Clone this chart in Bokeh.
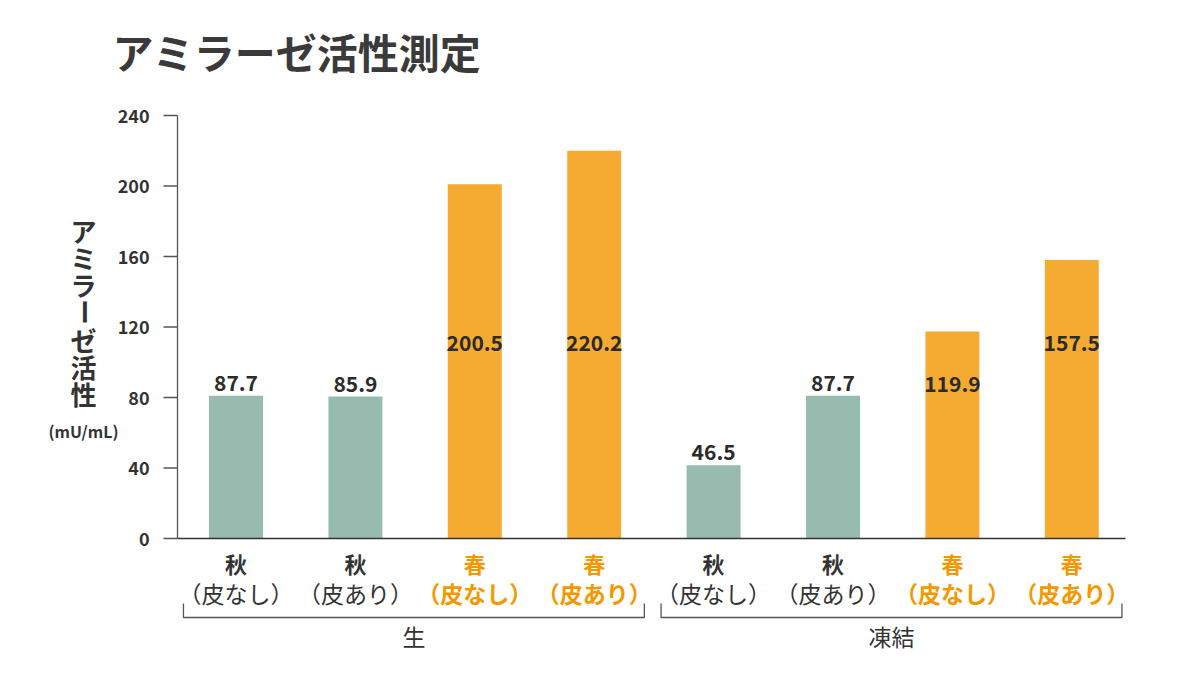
import math
from bokeh.plotting import figure
from bokeh.models import Range1d
from bokeh.core.properties import value
from bokeh.embed import file_html
from bokeh.resources import INLINE

# ---------------- data ----------------
chart_title = "アミラーゼ活性測定"
y_title_chars = list("アミラーゼ活性")
y_unit = "(mU/mL)"
groups = ["生", "凍結"]
seasons = ["秋", "秋", "春", "春", "秋", "秋", "春", "春"]
skins = ["（皮なし）", "（皮あり）", "（皮なし）", "（皮あり）",
         "（皮なし）", "（皮あり）", "（皮なし）", "（皮あり）"]
bar_heights = [81.0, 80.5, 201.0, 220.0, 41.5, 81.0, 117.5, 158.0]
value_labels = ["87.7", "85.9", "200.5", "220.2", "46.5", "87.7", "119.9", "157.5"]
y_ticks = [0, 40, 80, 120, 160, 200, 240]

# ---------------- style / layout ----------------
FONT = value("Noto Sans CJK JP")
TEAL = "#98bbb0"
ORANGE = "#f5ab32"
ORANGE_TXT = "#f39800"
DARK = "#333333"
GREY = "#555555"

W, H = 1184, 684
X0 = 175.8      # screen x of data x = 0
SLOT = 119.4    # px per category slot
Y0 = 538.0      # screen y of value 0
PXU = 423.0 / 240.0  # px per value unit
OFF = 0         # screen offset of the figure origin


def px2x(px):
    return (px - X0) / SLOT


def px2y(py):
    return (Y0 - py) / PXU


p = figure(width=W, height=H, output_backend="svg", toolbar_location=None,
           x_axis_location=None, y_axis_location=None, title=None,
           x_range=Range1d(px2x(OFF), px2x(OFF + W)),
           y_range=Range1d(px2y(OFF + H), px2y(OFF)),
           min_border=0, outline_line_color=None,
           background_fill_color="white", border_fill_color="white")
p.grid.visible = False

n = len(bar_heights)
centers = [i + 0.5 for i in range(n)]
colors = [TEAL if s == "秋" else ORANGE for s in seasons]

# bars
p.vbar(x=centers, top=bar_heights, bottom=0, width=0.452,
       fill_color=colors, line_color=None)

# value labels
out_x, out_y, out_t = [], [], []
in_x, in_y, in_t = [], [], []
for c, h, t, s in zip(centers, bar_heights, value_labels, seasons):
    if s == "秋":
        out_x.append(c); out_y.append(h); out_t.append(t)
    else:
        in_x.append(c); in_y.append(min(h - 30, 111.0)); in_t.append(t)
p.text(x=out_x, y=out_y, text=out_t, y_offset=-13, text_align="center",
       text_baseline="middle", text_font=FONT, text_font_size="21px",
       text_font_style="bold", text_color="#2b2b2b")
p.text(x=in_x, y=in_y, text=in_t, text_align="center",
       text_baseline="middle", text_font=FONT, text_font_size="21px",
       text_font_style="bold", text_color="#2b2b2b")

# y axis (line, ticks, labels)
ax_x = px2x(177)
p.segment(x0=[ax_x], y0=[0], x1=[ax_x], y1=[max(y_ticks)], line_color=GREY, line_width=1.3)
p.segment(x0=[px2x(163)] * len(y_ticks), y0=y_ticks, x1=[ax_x] * len(y_ticks), y1=y_ticks,
          line_color=GREY, line_width=1.3)
p.text(x=[px2x(149)] * len(y_ticks), y=y_ticks, text=[str(v) for v in y_ticks],
       text_align="right", text_baseline="middle", text_font=FONT,
       text_font_size="18px", text_font_style="bold", text_color=DARK)

# baseline
p.segment(x0=[ax_x], y0=[0], x1=[n - 0.05], y1=[0], line_color=DARK, line_width=1.5)

# category labels
for want, col1, col2, st2 in (("秋", DARK, DARK, "normal"), ("春", ORANGE_TXT, ORANGE_TXT, "bold")):
    xs = [c for c, s in zip(centers, seasons) if s == want]
    l1 = [s for s in seasons if s == want]
    l2 = [k for k, s in zip(skins, seasons) if s == want]
    p.text(x=xs, y=[0] * len(xs), text=l1, y_offset=24, text_align="center",
           text_baseline="middle", text_font=FONT, text_font_size="22px",
           text_font_style="bold", text_color=col1)
    p.text(x=xs, y=[0] * len(xs), text=l2, y_offset=54, text_align="center",
           text_baseline="middle", text_font=FONT, text_font_size="23px",
           text_font_style=st2, text_color=col2)

# group brackets and labels
per = n // len(groups)
bx, by, gx = [], [], []
for g in range(len(groups)):
    l = g * per + 0.06
    r = g * per + per - 0.08
    bx.append([l, l, r, r])
    by.append([px2y(603), px2y(617), px2y(617), px2y(603)])
    gx.append((l + r) / 2)
p.multi_line(xs=bx, ys=by, line_color=GREY, line_width=1.3)
p.text(x=gx, y=[px2y(635)] * len(gx), text=groups, text_align="center",
       text_baseline="middle", text_font=FONT, text_font_size="23px",
       text_color=DARK)

# vertical y-axis title
ty = [px2y(230 + i * 27.2) for i in range(len(y_title_chars))]
angles = [math.pi / 2 if ch == "ー" else 0 for ch in y_title_chars]
p.text(x=[px2x(83)] * len(y_title_chars), y=ty, text=y_title_chars, angle=angles,
       text_align="center", text_baseline="middle", text_font=FONT,
       text_font_size="26px", text_font_style="bold", text_color=DARK)
p.text(x=[px2x(83)], y=[px2y(430)], text=[y_unit], text_align="center",
       text_baseline="middle", text_font=FONT, text_font_size="16px",
       text_font_style="bold", text_color=DARK)

# chart title
p.text(x=[px2x(112)], y=[px2y(50)], text=[chart_title], text_align="left",
       text_baseline="middle", text_font=FONT, text_font_size="41px",
       text_font_style="bold", text_color="#3a3a3a")

open("out.html", "w").write(file_html(p, INLINE))
